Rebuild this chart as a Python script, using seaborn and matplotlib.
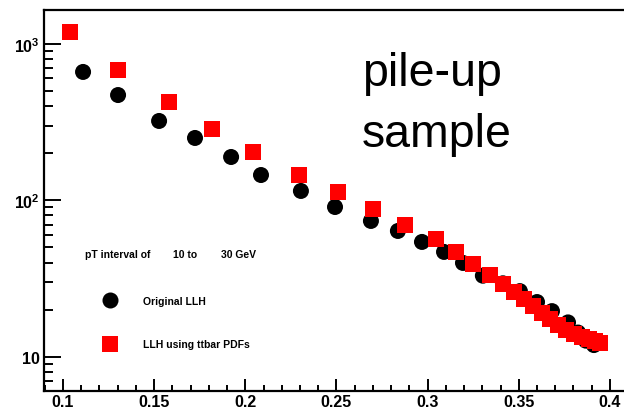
import numpy as np
import pandas as pd
import matplotlib
matplotlib.use("Agg")
import matplotlib.pyplot as plt
import seaborn as sns
from matplotlib.ticker import FixedLocator, FixedFormatter, MultipleLocator, LogLocator, NullFormatter

# ---- data ----
orig_x = [0.1110, 0.1302, 0.1527, 0.1724, 0.1922, 0.2086, 0.2305, 0.2492, 0.2689, 0.2837,
          0.2969, 0.3090, 0.3194, 0.3303, 0.3413, 0.3506, 0.3600, 0.3682, 0.3770, 0.3825,
          0.3868, 0.3912]
orig_y = [660, 470, 321, 250, 189, 145, 114.7, 90.6, 73.8, 63.7,
          54.2, 46.8, 39.8, 33.0, 29.5, 26.3, 22.4, 19.6, 16.6, 14.3,
          12.7, 11.9]
ttbar_x = [0.1038, 0.1302, 0.1581, 0.1817, 0.2042, 0.2294, 0.2508, 0.2700, 0.2876, 0.3046,
           0.3155, 0.3249, 0.3342, 0.3413, 0.3474, 0.3528, 0.3578, 0.3627, 0.3671, 0.3715,
           0.3759, 0.3803, 0.3846, 0.3885, 0.3918, 0.3945]
ttbar_y = [1188, 679, 424, 285, 203, 145, 113, 88, 69.5, 56.6,
           46.8, 39.2, 33.3, 29.2, 26.0, 23.4, 21.1, 19.1, 17.5, 16.0,
           14.9, 14.0, 13.4, 13.0, 12.6, 12.3]
series_labels = ["Original LLH", "LLH using ttbar PDFs"]
x_ticks = [0.1, 0.15, 0.2, 0.25, 0.3, 0.35, 0.4]
x_tick_labels = ["0.1", "0.15", "0.2", "0.25", "0.3", "0.35", "0.4"]
y_ticks = [10, 100, 1000]
y_tick_labels = ["10", r"$\mathdefault{10^{2}}$", r"$\mathdefault{10^{3}}$"]
header_parts = ["pT interval of", "10 to", "30 GeV"]
big_text = ["pile-up", "sample"]

# ---- style ----
sns.set_style("white")
plt.rcParams["font.family"] = ["Liberation Sans", "DejaVu Sans"]
plt.rcParams["mathtext.fontset"] = "custom"
plt.rcParams["mathtext.rm"] = "Liberation Sans:bold"
plt.rcParams["mathtext.bf"] = "Liberation Sans:bold"
plt.rcParams["text.color"] = "black"
plt.rcParams["xtick.color"] = "black"
plt.rcParams["ytick.color"] = "black"

W, H = 624, 410
fig = plt.figure(figsize=(W / 100, H / 100), dpi=100)
ax = fig.add_axes([44 / W, 18 / H, 586 / W, 381 / H])

df = pd.DataFrame({
    "x": orig_x + ttbar_x,
    "y": orig_y + ttbar_y,
    "series": [series_labels[0]] * len(orig_x) + [series_labels[1]] * len(ttbar_x),
})

sns.scatterplot(data=df, x="x", y="y", hue="series", style="series",
                palette={series_labels[0]: "black", series_labels[1]: "#ff0000"},
                markers={series_labels[0]: "o", series_labels[1]: "s"},
                s=133, linewidth=0, ax=ax, legend=True)

ax.set_yscale("log")
ax.set_xlim(0.08958, 0.4110)
ax.set_ylim(6.056, 1641)
ax.set_xlabel("")
ax.set_ylabel("")

ax.xaxis.set_major_locator(FixedLocator(x_ticks))
ax.xaxis.set_major_formatter(FixedFormatter(x_tick_labels))
ax.xaxis.set_minor_locator(MultipleLocator(0.01))
ax.yaxis.set_major_locator(FixedLocator(y_ticks))
ax.yaxis.set_major_formatter(FixedFormatter(y_tick_labels))
ax.yaxis.set_minor_locator(LogLocator(base=10, subs=range(2, 10)))
ax.yaxis.set_minor_formatter(NullFormatter())

ax.tick_params(which="both", direction="in", bottom=True, left=True, top=False, right=False,
               width=1.4, color="black", labelcolor="black")
ax.tick_params(axis="y", which="major", length=12.5, pad=3)
ax.tick_params(axis="y", which="minor", length=6.5)
ax.tick_params(axis="x", which="major", length=8.6, pad=2.5)
ax.tick_params(axis="x", which="minor", length=4.3)
for lab in ax.get_xticklabels() + ax.get_yticklabels():
    lab.set_fontweight("bold")
    lab.set_fontsize(11.5)
    lab.set_color("black")

for sp in ["left", "bottom", "top"]:
    ax.spines[sp].set_linewidth(1.6)
    ax.spines[sp].set_color("black")
ax.spines["right"].set_visible(False)

# legend
sns.move_legend(ax, "upper left", bbox_to_anchor=(85 / W, (H - 297) / H),
                bbox_transform=fig.transFigure, frameon=False, title=None,
                prop={"weight": "bold", "size": 7.5}, handlelength=4.8,
                handletextpad=0.77, labelspacing=3.2, borderpad=0, borderaxespad=0,
                markerscale=1.0, labelcolor="black")

# header line
for txt, px in zip(header_parts, [85, 173, 221]):
    fig.text(px / W, (H - 255) / H, txt, fontsize=7.5, fontweight="bold",
             va="center", ha="left", color="black")

# big annotation
fig.text(362 / W, (H - 86) / H, big_text[0], fontsize=33.5, va="baseline", ha="left", color="black")
fig.text(362 / W, (H - 147) / H, big_text[1], fontsize=33.5, va="baseline", ha="left", color="black")

fig.savefig("out.png", dpi=100)
